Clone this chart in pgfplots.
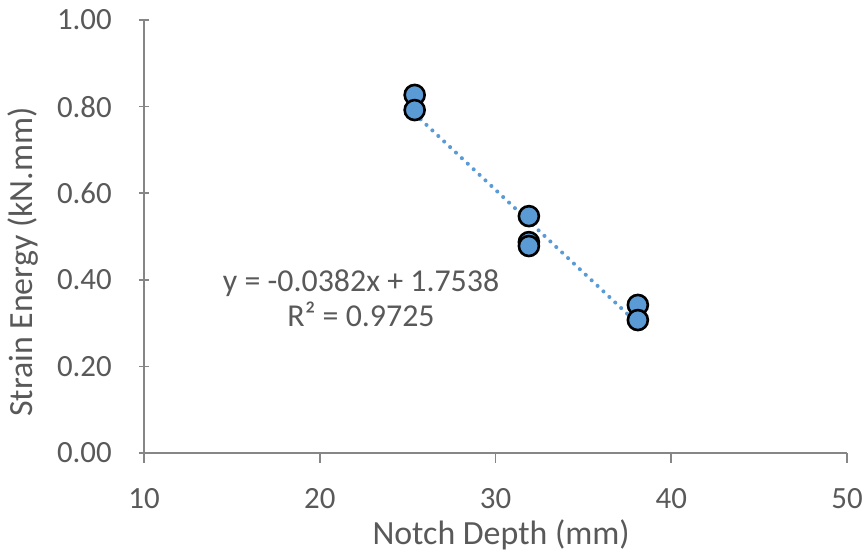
\documentclass[border=0pt]{standalone}
\usepackage{pgfplots}
\pgfplotsset{compat=1.18}
\usepackage{fontspec}
\setmainfont{Carlito}
\definecolor{txtgray}{HTML}{595959}
\definecolor{axgray}{HTML}{868686}
\definecolor{ptblue}{HTML}{5B9BD5}
\begin{document}
\begin{tikzpicture}
\begin{axis}[
  scale only axis,
  width=703bp, height=433bp,
  xmin=10, xmax=50, ymin=0, ymax=1,
  xtick={10,20,30,40,50},
  ytick={0,0.2,0.4,0.6,0.8,1},
  axis x line=bottom, axis y line=left,
  axis line style={-, draw=axgray, line width=1.6bp},
  major tick style={draw=axgray, line width=1.6bp},
  major tick length=10bp,
  xtick align=outside,
  ytick align=center,
  /pgf/number format/assume math mode=true,
  yticklabel style={/pgf/number format/fixed, /pgf/number format/fixed zerofill, /pgf/number format/precision=2},
  ticklabel style={font=\fontsize{31}{36}\selectfont, text=txtgray},
  yticklabel style={anchor=east, inner sep=0pt, xshift=-27bp},
  xticklabel style={anchor=base, inner sep=0pt, yshift=-45bp},
  xlabel={Notch Depth (mm)},
  ylabel={Strain Energy (kN.mm)},
  label style={font=\fontsize{34}{40}\selectfont, text=txtgray},
  xlabel style={at={(axis description cs:0.508,0)}, anchor=base, inner sep=0pt, yshift=-91bp},
  ylabel style={at={(axis description cs:0,0.441)}, anchor=base, inner sep=0pt, yshift=111bp},
  clip=false,
]
\addplot[only marks, mark=*, mark size=10bp,
  mark options={fill=ptblue, draw=black, line width=2.6bp}]
  coordinates {
  (25.4,0.827) (25.4,0.792)
  (31.9,0.547) (31.9,0.487) (31.9,0.478)
  (38.1,0.342) (38.1,0.307)
  };
\addplot[ptblue, line width=4bp, line cap=round, dash pattern=on 0.1bp off 8bp]
  coordinates {(25.4,0.7835) (38.1,0.2984)};
\node[anchor=base, text=txtgray, font=\fontsize{32}{38}\selectfont, inner sep=0pt]
  at (axis cs:22.35,0.374) {y = -0.0382x + 1.7538};
\node[anchor=base, text=txtgray, font=\fontsize{32}{38}\selectfont, inner sep=0pt]
  at (axis cs:22.35,0.291) {R² = 0.9725};
\end{axis}
\useasboundingbox ([xshift=-144bp,yshift=-99bp]current axis.south west) rectangle ([xshift=20bp,yshift=20bp]current axis.north east);
\end{tikzpicture}
\end{document}
